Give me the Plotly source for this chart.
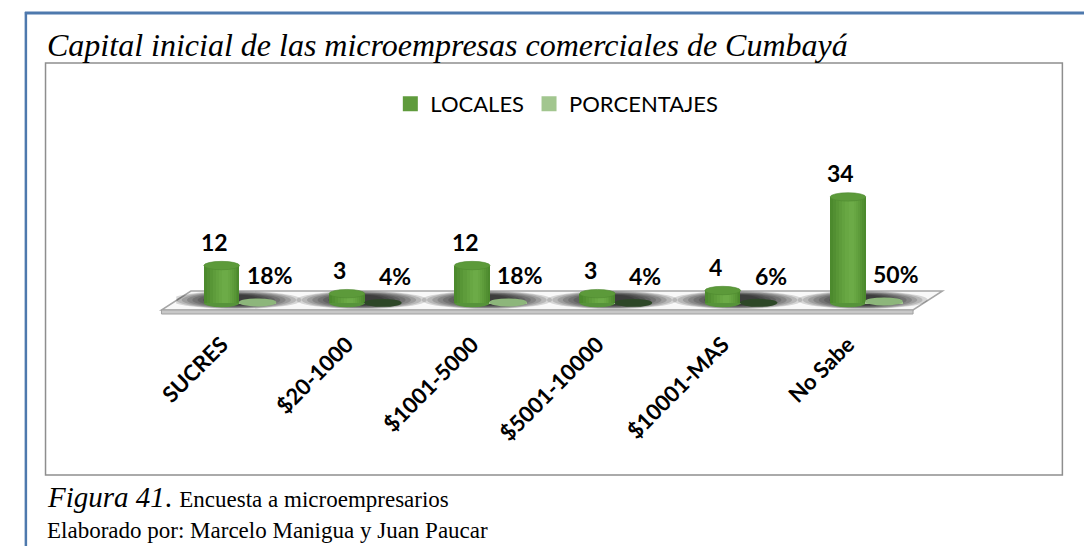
import plotly.graph_objects as go

# ---- data -------------------------------------------------------------
categorias = ["SUCRES", "$20-1000", "$1001-5000", "$5001-10000", "$10001-MAS", "No Sabe"]
locales = [12, 3, 12, 3, 4, 34]
porcentajes = [0.18, 0.04, 0.18, 0.04, 0.06, 0.50]

# ---- page geometry helpers (pixels -> paper) --------------------------
W, H = 1084, 546


def px(x):
    return x / W


def py(y):
    return 1 - y / H


# plot area: category band and value scale
X_LEFT, X_RIGHT = 160, 925
Y_ZERO, PX_PER_UNIT = 303, 3.12
Y_MIN, Y_MAX = -7.5, 45
y_bottom_px = Y_ZERO - Y_MIN * PX_PER_UNIT
y_top_px = Y_ZERO - Y_MAX * PX_PER_UNIT

BAR_OFF, BAR_W = -0.137, 0.285
DISK_OFF, DISK_W = 0.15, 0.30
ELL_H = 4.2 / PX_PER_UNIT  # half-height of the cylinder caps in value units

GREEN = "#4C8A2D"
GREEN_CAP = "#5C9A3A"
PCT_LEGEND = "#A2C68F"
LEGEND_GREEN = "#5F9B3C"
disk_colors = ["#8DB67B", "#2D4727", "#8DB67B", "#2D4727", "#2D4727", "#8DB67B"]
# nested strips giving the cylinders a rounded, lit look (width fraction, colour)
body_shading = [(0.86, "#528F32"), (0.72, "#589636"), (0.58, "#5E9C3B"),
                (0.44, "#63A23F"), (0.30, "#68A743"), (0.16, "#6CAB47")]

xs = list(range(len(categorias)))
bar_x = [i + BAR_OFF for i in xs]
disk_x = [i + DISK_OFF for i in xs]

fig = go.Figure()

# cylinder bodies: base bar plus lighter nested strips
fig.add_trace(go.Bar(x=bar_x, y=locales, width=BAR_W, name="LOCALES",
                     marker=dict(color=GREEN, line=dict(width=0)),
                     showlegend=False, hoverinfo="skip"))
for frac, col in body_shading:
    shift = 0.12 * BAR_W * (1 - frac)
    fig.add_trace(go.Bar(x=[b + shift for b in bar_x], y=locales,
                         width=BAR_W * frac, showlegend=False,
                         marker=dict(color=col, line=dict(width=0)),
                         hoverinfo="skip"))

fig.add_trace(go.Bar(x=disk_x, y=porcentajes, width=DISK_W, name="PORCENTAJES",
                     marker=dict(color=PCT_LEGEND, line=dict(width=0)),
                     showlegend=False, hoverinfo="skip"))

# legend entries
fig.add_trace(go.Scatter(x=[None], y=[None], mode="markers", name="LOCALES",
                         marker=dict(symbol="square", size=15, color=LEGEND_GREEN)))
fig.add_trace(go.Scatter(x=[None], y=[None], mode="markers", name="PORCENTAJES",
                         marker=dict(symbol="square", size=15, color=PCT_LEGEND)))

shapes = []
# floor of the 3-D plot
shapes.append(dict(type="path", xref="paper", yref="paper", layer="below",
                   path=f"M{px(175)},{py(291)} L{px(940)},{py(291)} L{px(910)},{py(310)} "
                        f"L{px(145)},{py(310)} Z",
                   fillcolor="#F8F8F8", line=dict(color="#A6A6A6", width=1.5)))
shapes.append(dict(type="path", xref="paper", yref="paper", layer="below",
                   path=f"M{px(145)},{py(310)} L{px(910)},{py(310)} L{px(910)},{py(314)} "
                        f"L{px(145)},{py(314)} Z",
                   fillcolor="#C8C8C8", line=dict(color="#A0A0A0", width=1)))

# soft shadows cast on the floor around each category
for i in xs:
    for k in range(9):
        hw = 0.52 - k * 0.042
        hh = 9.0 - k * 0.45
        cx = i - 0.02
        shapes.append(dict(type="circle", xref="x", yref="paper", layer="below",
                           x0=cx - hw, x1=cx + hw,
                           y0=py(300 + hh), y1=py(300 - hh),
                           fillcolor="rgba(0,0,0,0.14)", line=dict(width=0)))

# bottom caps of the cylinders
for b in bar_x:
    shapes.append(dict(type="circle", xref="x", yref="y", layer="below",
                       x0=b - BAR_W / 2, x1=b + BAR_W / 2, y0=-ELL_H, y1=ELL_H,
                       fillcolor="#56933A", line=dict(width=0)))

# top caps of the cylinders
for b, v in zip(bar_x, locales):
    shapes.append(dict(type="circle", xref="x", yref="y", layer="above",
                       x0=b - BAR_W / 2, x1=b + BAR_W / 2, y0=v - ELL_H, y1=v + ELL_H,
                       fillcolor=GREEN_CAP, line=dict(color="#4F8A31", width=0.6)))

# flat discs for the percentage series
for d, p, col in zip(disk_x, porcentajes, disk_colors):
    shapes.append(dict(type="circle", xref="x", yref="y", layer="above",
                       x0=d - DISK_W / 2, x1=d + DISK_W / 2,
                       y0=p - ELL_H * 0.95, y1=p + ELL_H * 0.95,
                       fillcolor=col, line=dict(width=0)))

# outer page frame and chart border
shapes.append(dict(type="line", xref="paper", yref="paper", x0=px(6), x1=1, y0=py(13), y1=py(13),
                   line=dict(color="#4E79AD", width=3)))
shapes.append(dict(type="line", xref="paper", yref="paper", x0=px(7), x1=px(7), y0=py(12), y1=0,
                   line=dict(color="#4E79AD", width=2.5)))
shapes.append(dict(type="rect", xref="paper", yref="paper", x0=px(27), x1=px(1062),
                   y0=py(475), y1=py(63), line=dict(color="#8E8E8E", width=1.5)))

annotations = []
LABEL_FONT = dict(family="Lato", size=23, color="black")
for b, v in zip(bar_x, locales):
    annotations.append(dict(x=b, y=v, xref="x", yref="y", text=f"<b>{v}</b>",
                            showarrow=False, xshift=-7, yshift=24, font=LABEL_FONT))
for d, p in zip(disk_x, porcentajes):
    annotations.append(dict(x=d, y=p, xref="x", yref="y", text=f"<b>{round(p * 100)}%</b>",
                            showarrow=False, xshift=12, yshift=27, font=LABEL_FONT))

annotations.append(dict(x=px(26), y=py(45), xref="paper", yref="paper", xanchor="left",
                        yanchor="middle", showarrow=False,
                        text="<i>Capital inicial de las microempresas comerciales de Cumbayá</i>",
                        font=dict(family="Liberation Serif", size=32, color="black")))
annotations.append(dict(x=px(26), y=py(497), xref="paper", yref="paper", xanchor="left",
                        yanchor="middle", showarrow=False,
                        text="<i>Figura 41</i>. <span style='font-size:23px'>Encuesta a microempresarios</span>",
                        font=dict(family="Liberation Serif", size=29, color="black")))
annotations.append(dict(x=px(26), y=py(530), xref="paper", yref="paper", xanchor="left",
                        yanchor="middle", showarrow=False,
                        text="Elaborado por: Marcelo Manigua y Juan Paucar",
                        font=dict(family="Liberation Serif", size=23, color="black")))

fig.update_layout(
    width=W, height=H, autosize=False,
    margin=dict(l=0, r=0, t=0, b=0),
    paper_bgcolor="white", plot_bgcolor="rgba(0,0,0,0)",
    barmode="overlay", bargap=0,
    shapes=shapes, annotations=annotations,
    legend=dict(orientation="h", x=0.505, xanchor="center", y=py(104), yanchor="middle",
                font=dict(family="Lato", size=22, color="black"),
                itemwidth=30, bgcolor="rgba(0,0,0,0)"),
    xaxis=dict(domain=[px(X_LEFT), px(X_RIGHT)], range=[-0.5, 5.5],
               tickvals=xs, ticktext=categorias, tickangle=-45,
               tickfont=dict(family="Lato", size=22, color="black", weight="bold"),
               ticklabelshift=-17,
               showgrid=False, zeroline=False, showline=False, ticks=""),
    yaxis=dict(domain=[py(y_bottom_px), py(y_top_px)], range=[Y_MIN, Y_MAX],
               visible=False, showgrid=False, zeroline=False),
)

fig.write_html("out.html")
